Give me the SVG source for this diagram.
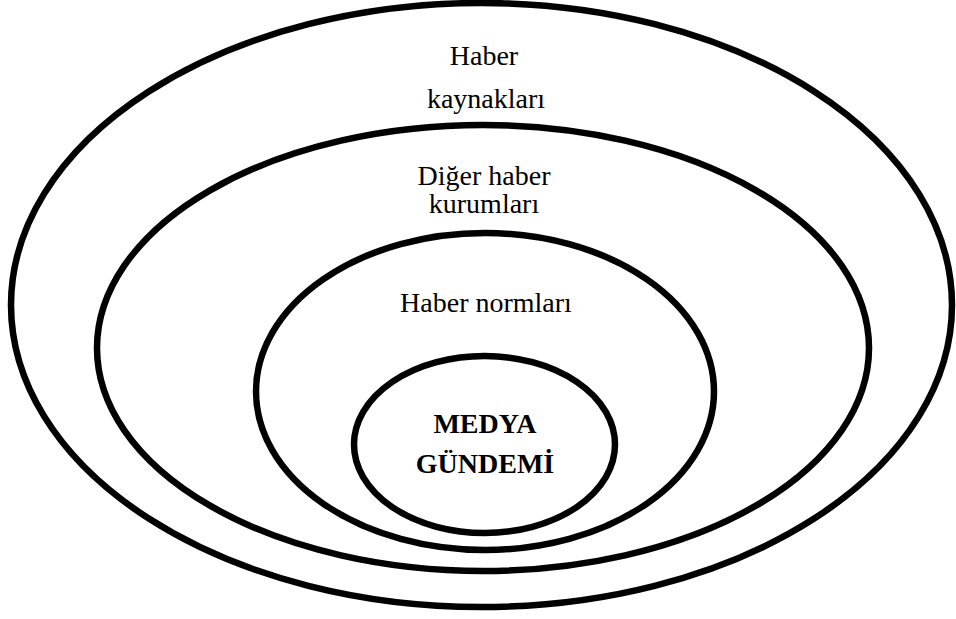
<svg xmlns="http://www.w3.org/2000/svg" width="956" height="619" viewBox="0 0 956 619">
<style>
.ring{fill:none;stroke:#000;stroke-width:6.5}
.t{font-family:"Liberation Serif","Times New Roman",serif;font-size:28px;fill:#000;text-anchor:middle}
.b{font-weight:bold}
</style>
<rect width="956" height="619" fill="#fff"/>
<g id="haber-kaynaklari">
<ellipse class="ring" cx="481.5" cy="305" rx="470.5" ry="302"/>
<text class="t" x="484" y="65">Haber</text>
<text class="t" x="486" y="108">kaynakları</text>
</g>
<g id="diger-haber-kurumlari">
<ellipse class="ring" cx="483" cy="348" rx="386" ry="223"/>
<text class="t" x="484" y="185">Diğer haber</text>
<text class="t" x="484" y="213">kurumları</text>
</g>
<g id="haber-normlari">
<ellipse class="ring" cx="485" cy="391.5" rx="229" ry="158.5"/>
<text class="t" x="486" y="312">Haber normları</text>
</g>
<g id="medya-gundemi">
<ellipse class="ring" cx="484.5" cy="444.5" rx="130.5" ry="88.5"/>
<text class="t b" x="485" y="433">MEDYA</text>
<text class="t b" x="485" y="473">GÜNDEMİ</text>
</g>
<g id="connectors"></g>
</svg>
